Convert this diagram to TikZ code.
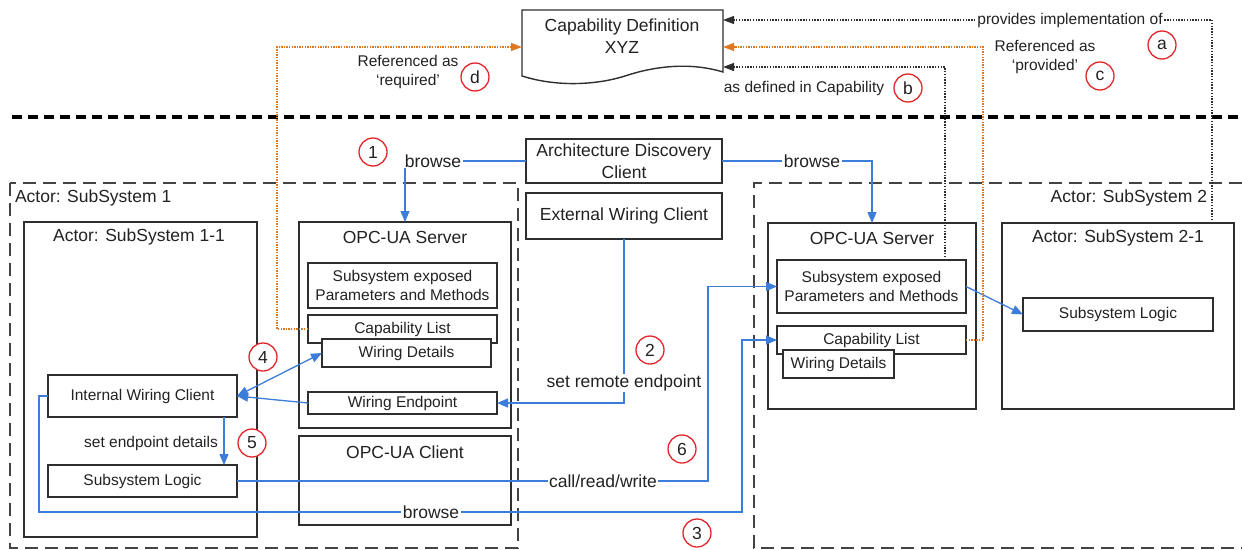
\documentclass[tikz,border=0pt]{standalone}
\usepackage{fontspec}
\setmainfont{Liberation Sans}
\usetikzlibrary{arrows.meta}
\definecolor{lblue}{HTML}{3B7DD8}
\definecolor{lorange}{HTML}{E07820}
\definecolor{lred}{HTML}{E3262B}
\definecolor{ldark}{HTML}{2E2E2E}
\definecolor{ltext}{HTML}{222222}
\begin{document}
\begin{tikzpicture}[x=1pt,y=-1pt,
  every node/.style={inner sep=0pt, outer sep=0pt, text=ltext},
  big/.style={font=\fontsize{17.5}{21.5}\selectfont},
  small/.style={font=\fontsize{15.5}{19}\selectfont},
  box/.style={draw=ldark, line width=1.4pt, fill=white},
  fbox/.style={box, inner sep=0pt, align=center},
  sz/.style 2 args={minimum width=#1pt, minimum height=#2pt},
  ssdash/.style={draw=ldark!90, line width=1.6pt, dash pattern=on 13pt off 7pt},
  sepline/.style={draw=black, line width=4pt, dash pattern=on 10pt off 6pt},
  barrow/.style={draw=lblue, line width=1.3pt, -{Triangle[length=11pt,width=9pt]}},
  bdouble/.style={draw=lblue, line width=1.3pt, {Triangle[length=11pt,width=9pt]}-{Triangle[length=11pt,width=9pt]}},
  kdot/.style={draw=ldark, line width=1.2pt, dash pattern=on 1.4pt off 1.4pt, -{Triangle[length=11pt,width=8pt]}},
  odot/.style={draw=lorange, line width=1.2pt, dash pattern=on 1.4pt off 1.2pt, -{Triangle[length=11pt,width=8pt]}},
  circ/.style={circle, draw=lred, line width=1.3pt, minimum size=28pt, fill=white, big},
  lbl/.style={fill=white, inner xsep=1.5pt, inner ysep=1pt}
]
\useasboundingbox (0,0) rectangle (1242,549);

% separator
\draw[sepline] (12,117) -- (1242,117);

% capability definition document
\draw[box] (522,10) -- (723,10) -- (723,72) .. controls (690,62) and (655,66) .. (625,76)
  .. controls (600,84) and (560,88) .. (522,76) -- cycle;
\node[big, align=center] (capdef) at (622,36) {Capability Definition\\XYZ};
\coordinate (cdA) at (723,20);
\coordinate (cdC) at (723,47);
\coordinate (cdB) at (723,67);
\coordinate (cdD) at (522,47);

% subsystem containers
\draw[ssdash] (10,183) rectangle (518,548);
\draw[ssdash] (1242,183) -- (754,183) -- (754,548) -- (1242,548);
\node[big, anchor=west] (t1) at (15,198) {Actor: SubSystem 1};
\node[big, anchor=east] (t2) at (1207,198) {Actor: SubSystem 2};

% top clients
\node[fbox, big, sz={196}{44}] (adc) at (624,161) {Architecture Discovery\\Client};
\node[fbox, big, sz={196}{46}] (ewc) at (624,216) {External Wiring Client};

% Subsystem 1-1
\node[box, sz={233}{315}] (ss11) at (140.5,379.5) {};
\node[big] (t11) at (139,237) {Actor: SubSystem 1-1};
\node[fbox, small, sz={189}{42}] (iwc) at (142.5,396) {Internal Wiring Client};
\node[fbox, small, sz={189}{32}] (slL) at (142.5,481) {Subsystem Logic};

% OPC-UA server left
\node[box, sz={212}{206}] (srvL) at (405,325) {};
\node[big] (tsrvL) at (405,237) {OPC-UA Server};
\node[fbox, small, sz={189}{45}] (expL) at (402.5,285.5) {Subsystem exposed\\Parameters and Methods};
\node[fbox, small, sz={189}{28}] (capL) at (402.5,329) {\raisebox{3pt}{Capability List}};
\node[fbox, small, sz={169}{28}] (wdL) at (406.5,353) {Wiring Details};
\node[fbox, small, sz={189}{22}] (weL) at (402.5,403) {Wiring Endpoint};

% OPC-UA client left
\node[box, sz={212}{89}] (cliL) at (405,480.5) {};
\node[big] (tcliL) at (405,452) {OPC-UA Client};

% OPC-UA server right
\node[box, sz={208}{186}] (srvR) at (872,316) {};
\node[big] (tsrvR) at (872,238) {OPC-UA Server};
\node[fbox, small, sz={189}{53}] (expR) at (871.5,286.5) {Subsystem exposed\\Parameters and Methods};
\node[fbox, small, sz={189}{28}] (capR) at (871.5,340) {Capability List};
\node[fbox, small, sz={111}{28}] (wdR) at (838.5,364) {Wiring Details};

% Subsystem 2-1
\node[box, sz={232}{186}] (ss21) at (1118,316) {};
\node[big] (t21) at (1118,238) {Actor: SubSystem 2-1};
\node[fbox, small, sz={190}{33}] (slR) at (1118,314.5) {Subsystem Logic};

% blue connectors
\draw[barrow] (adc.west) -| (srvL.north);
\draw[barrow] (adc.east) -| (srvR.north);
\node[big, lbl] (brL) at (433,161) {browse};
\node[big, lbl] (brR) at (812,161) {browse};

\draw[barrow] (ewc.south) |- (weL.east);
\node[big, lbl] (sre) at (624,383) {set remote endpoint};

\draw[bdouble] (iwc.east) -- (wdL.west);
\draw[barrow] (weL.west) -- (iwc.east);
\draw[barrow] ([xshift=-13pt]iwc.south east) -- ([xshift=-13pt]slL.north east);
\node[small] (sed) at (151,443) {set endpoint details};

\draw[barrow] (slL.east) -- (708,481) |- (expR.west);
\node[big, lbl] (crw) at (603,481) {call/read/write};

\draw[barrow] (iwc.west) -- (39,396) -- (39,512) -- (742,512) |- (capR.west);
\node[big, lbl] (br3) at (431,512) {browse};

\draw[barrow] (expR.east) -- (slR.west);

% dotted references
\draw[odot] (capL.west) -- (277,329) -- (277,47) -- (cdD);
\draw[odot] (capR.east) -- (983,340) -- (983,47) -- (cdC);
\draw[kdot] ([xshift=-21pt]expR.north east) -- (945,67) -- (cdB);
\draw[kdot] ([xshift=-22pt]ss21.north east) -- (1212,20) -- (cdA);
\node[small, lbl] (prov) at (1070,20) {provides implementation of};

% annotation texts
\node[small, align=center] (refreq) at (408,72) {Referenced as\\‘required’};
\node[small] (asdef) at (804,88) {as defined in Capability};
\node[small, align=center] (refprov) at (1045,57) {Referenced as\\‘provided’};

% numbered circles
\node[circ] (c1) at (373,152) {1};
\node[circ] (c2) at (650,350) {2};
\node[circ] (c3) at (697,533) {3};
\node[circ] (c4) at (263,357) {4};
\node[circ] (c5) at (252,443) {5};
\node[circ] (c6) at (682,449) {6};
\node[circ] (ca) at (1162,45) {a};
\node[circ] (cb) at (908,88) {b};
\node[circ] (cc) at (1100,76) {c};
\node[circ] (cd) at (475,77) {d};
\end{tikzpicture}
\end{document}
